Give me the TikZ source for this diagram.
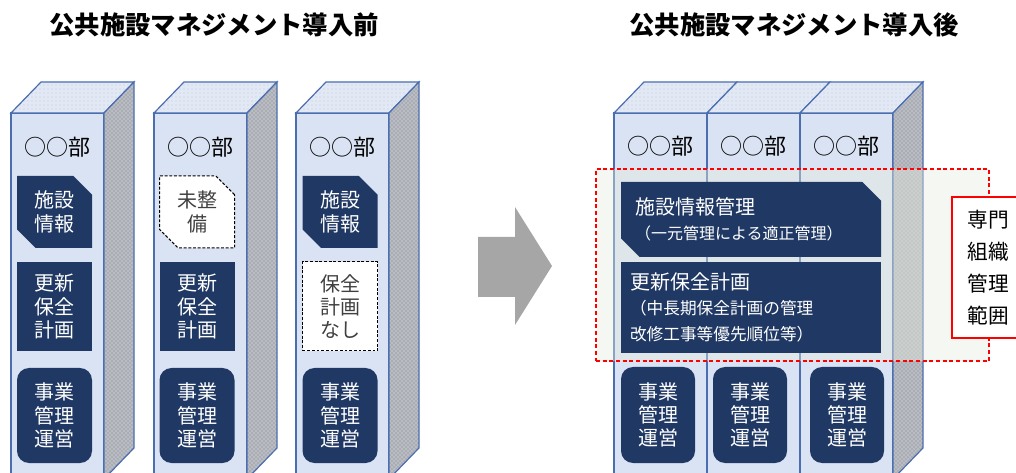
\documentclass[tikz,border=0pt]{standalone}
\usepackage{fontspec}
\setmainfont{Noto Sans CJK JP}
\usetikzlibrary{shapes.misc,patterns}
\definecolor{navy}{HTML}{203864}
\definecolor{frontc}{HTML}{DAE3F3}
\definecolor{topc}{HTML}{E2E8F4}
\definecolor{topdot}{HTML}{BFC9DD}
\definecolor{sidec}{HTML}{B9BCC3}
\definecolor{sidedot}{HTML}{7A7E86}
\definecolor{edgec}{HTML}{4A6EB0}
\definecolor{arrowc}{HTML}{A6A6A6}
\definecolor{redc}{HTML}{FF0000}
\definecolor{regionc}{HTML}{E6EBDF}
\definecolor{graytext}{HTML}{404040}
\tikzset{
 edge/.style={draw=edgec, line width=0.9pt},
 frontface/.style={edge, fill=frontc},
 topface/.style={edge, preaction={fill=topc}, preaction={pattern=dots, pattern color=topdot}},
 sideface/.style={edge, preaction={fill=sidec}, preaction={pattern=crosshatch dots, pattern color=sidedot}},
 dept/.style={font=\fontsize{16.5}{18}\selectfont, inner sep=0pt},
 boxtext/.style={font=\fontsize{15}{17.5}\selectfont, align=center, inner sep=0pt, minimum width=56.25pt},
 navybox/.style={boxtext, fill=navy, text=white},
 dashbox/.style={boxtext, fill=white, draw=black, dash pattern=on 2.2pt off 1.3pt, line width=0.75pt, text=graytext},
 snip/.style={chamfered rectangle, chamfered rectangle corners={north east,south west}, chamfered rectangle xsep=7pt, chamfered rectangle ysep=7pt},
 opsbox/.style={navybox, rounded corners=9pt, minimum height=71.25pt},
 title/.style={font=\fontsize{19}{22}\selectfont\bfseries, inner sep=0pt},
 bigbox/.style={fill=navy, text=white, align=left, font=\fontsize{15}{19.5}\selectfont},
 region/.style={draw=redc, dash pattern=on 3pt off 2pt, line width=1.1pt, fill=regionc, fill opacity=0.42, draw opacity=1, text opacity=1, minimum width=294.75pt, minimum height=144pt, inner sep=0pt},
 senbox/.style={draw=redc, line width=1.1pt, fill=white, font=\fontsize{15.5}{24}\selectfont, align=left, text width=31pt, inner xsep=11.5pt, minimum height=105.75pt}
}
\newcommand\deptcol[2]{%
 \path[frontface] (#1,113) rectangle (#1+93,482);
 \path[topface] (#1,113) -- (#1+30,82) -- (#1+123,82) -- (#1+93,113) -- cycle;
 \path[sideface] (#1+93,113) -- (#1+123,82) -- (#1+123,448) -- (#1+93,479) -- cycle;
 \node[dept] (#2) at (#1+46.5,147) {○○部};
}
\begin{document}
\begin{tikzpicture}[x=0.75pt,y=-0.75pt]
\useasboundingbox (0,0) rectangle (1016,473);
\clip (0,0) rectangle (1016,473);
% titles
\node[title] (tbefore) at (214,25) {公共施設マネジメント導入前};
\node[title] (tafter) at (794,25) {公共施設マネジメント導入後};
% left columns
\deptcol{11}{d1}
\deptcol{154}{d2}
\deptcol{296}{d3}
\node[navybox, snip, minimum height=54pt] (c1info) at (54.5,212) {施設\\情報};
\node[navybox, minimum height=66.75pt] (c1plan) at (54.5,306.5) {更新\\保全\\計画};
\node[opsbox] (c1ops) at (54.5,415.5) {事業\\管理\\運営};
\node[dashbox, snip, minimum height=54pt] (c2info) at (197,212) {未整\\備};
\node[navybox, minimum height=66.75pt] (c2plan) at (197,306.5) {更新\\保全\\計画};
\node[opsbox] (c2ops) at (197,415.5) {事業\\管理\\運営};
\node[navybox, snip, minimum height=54pt] (c3info) at (340,212) {施設\\情報};
\node[dashbox, minimum height=66.75pt] (c3plan) at (340,306.5) {保全\\計画\\なし};
\node[opsbox] (c3ops) at (340,415.5) {事業\\管理\\運営};
% arrow
\fill[arrowc] (478,237) -- (515,237) -- (515,207) -- (552,266) -- (515,325) -- (515,297) -- (478,297) -- cycle;
% right block
\path[frontface] (614,113) rectangle (707,482);
\path[frontface] (707,113) rectangle (800,482);
\path[frontface] (800,113) rectangle (893,482);
\path[topface] (614,113) -- (644,82) -- (737,82) -- (707,113) -- cycle;
\path[topface] (707,113) -- (737,82) -- (830,82) -- (800,113) -- cycle;
\path[topface] (800,113) -- (830,82) -- (923,82) -- (893,113) -- cycle;
\path[sideface] (893,113) -- (923,82) -- (923,448) -- (893,479) -- cycle;
\node[dept] (r1) at (660.5,146) {○○部};
\node[dept] (r2) at (753.5,146) {○○部};
\node[dept] (r3) at (846.5,146) {○○部};
\node[region] (scope) at (792.5,265) {};
\node[bigbox, snip, minimum height=56.25pt, inner xsep=3.5pt, inner ysep=2pt, text width=174pt] (rinfo) at (751,219.5)
 {施設情報管理\\[-1pt]{\fontsize{12}{14}\selectfont （一元管理による適正管理）}};
\node[bigbox, minimum width=195pt, minimum height=68.25pt, inner xsep=6.75pt, text width=181.5pt] (rplan) at (751,307.5)
 {更新保全計画\\[2.5pt]{\fontsize{12.5}{16.5}\selectfont （中長期保全計画の管理\\改修工事等優先順位等）}};
\node[opsbox, minimum width=55.5pt, minimum height=72pt] (rops1) at (658,415) {事業\\管理\\運営};
\node[opsbox, minimum width=55.5pt, minimum height=72pt] (rops2) at (750,415) {事業\\管理\\運営};
\node[opsbox, minimum width=55.5pt, minimum height=72pt] (rops3) at (847,415) {事業\\管理\\運営};
\node[senbox] (senmon) at (988,267.5) {専門\\組織\\管理\\範囲};
\end{tikzpicture}
\end{document}
